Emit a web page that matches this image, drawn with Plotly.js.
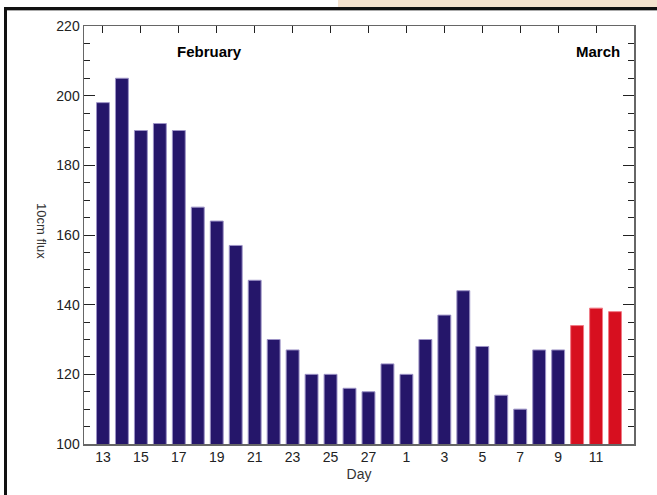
<!DOCTYPE html>
<html>
<head>
<meta charset="utf-8">
<script src="https://cdn.plot.ly/plotly-3.0.1.min.js"></script>
<style>
html,body{margin:0;padding:0;background:#fff;}
#chart{width:657px;height:495px;}
</style>
</head>
<body>
<div id="chart"></div>
<script>
// Observed 10cm flux, Feb 13 - Mar 9
var obsDays = ["13","14","15","16","17","18","19","20","21","22","23","24","25","26","27","28",
               "1","2","3","4","5","6","7","8","9"];
var obsFlux = [198,205,190,192,190,168,164,157,147,130,127,120,120,116,115,123,
               120,130,137,144,128,114,110,127,127];
// Forecast / highlighted days, Mar 10 - 12
var fcDays = ["10","11","12"];
var fcFlux = [134,139,138];
var monthLabels = ["February","March"];
var xTitle = "Day";
var yTitle = "10cm flux";

var allDays = obsDays.concat(fcDays);
var tickDays = allDays.filter(function(d,i){return i%2===0;});

var font = "Liberation Sans, Arial, sans-serif";

var traces = [
  {type:"bar", x:obsDays, y:obsFlux, width:0.68,
   marker:{color:"#25166a", line:{color:"#9d93c6", width:1}}, hoverinfo:"x+y"},
  {type:"bar", x:fcDays, y:fcFlux, width:0.68,
   marker:{color:"#d70f1f", line:{color:"#f07a85", width:1}}, hoverinfo:"x+y"}
];

function px2x(p){return (p-84)/550;}
function px2y(p){return (444-p)/418;}

var layout = {
  width:657, height:495,
  margin:{l:84, r:23, t:26, b:51},
  paper_bgcolor:"#fff", plot_bgcolor:"#fff",
  showlegend:false,
  barmode:"overlay",
  font:{family:font, size:14, color:"#222"},
  xaxis:{
    type:"category", categoryorder:"array", categoryarray:allDays,
    range:[-1, allDays.length],
    tickmode:"array", tickvals:tickDays, ticktext:tickDays,
    ticks:"inside", ticklen:7, tickcolor:"#222", tickwidth:1,
    showline:true, linecolor:"#666", linewidth:1.5, mirror:"ticks",
    showgrid:false, zeroline:false, layer:"below traces",
    tickfont:{family:font, size:14, color:"#222"},
    title:{text:xTitle, font:{family:font, size:14, color:"#333"}, standoff:5}
  },
  yaxis:{
    range:[100,220], tickmode:"linear", tick0:100, dtick:20,
    ticks:"inside", ticklen:11, tickcolor:"#222", tickwidth:1,
    minor:{dtick:5, ticks:"inside", ticklen:6, tickcolor:"#222", tickwidth:1},
    showline:true, linecolor:"#666", linewidth:1.5, mirror:"ticks",
    showgrid:false, zeroline:false,
    tickfont:{family:font, size:14, color:"#222"}
  },
  annotations:[
    {text:yTitle, xref:"paper", yref:"paper", x:px2x(41), y:px2y(231), textangle:90,
     xanchor:"center", yanchor:"middle", showarrow:false, font:{family:font, size:13, color:"#333"}},
    {text:"<b>"+monthLabels[0]+"</b>", xref:"paper", yref:"paper", x:px2x(209), y:px2y(51),
     xanchor:"center", yanchor:"middle", showarrow:false, font:{family:font, size:15, color:"#000"}},
    {text:"<b>"+monthLabels[1]+"</b>", xref:"paper", yref:"paper", x:px2x(622), y:px2y(51),
     xanchor:"right", yanchor:"middle", showarrow:false, font:{family:font, size:15, color:"#000"}}
  ],
  shapes:[
    {type:"rect", xref:"paper", yref:"paper", x0:px2x(338), x1:px2x(660), y0:px2y(7), y1:px2y(-1),
     fillcolor:"#f5e3cf", line:{width:0}, layer:"above"},
    {type:"rect", xref:"paper", yref:"paper", x0:px2x(4), x1:px2x(660), y0:px2y(10), y1:px2y(7),
     fillcolor:"#111", line:{width:0}, layer:"above"},
    {type:"line", xref:"paper", yref:"paper", x0:px2x(7), x1:px2x(660), y0:px2y(10.5), y1:px2y(10.5),
     line:{color:"#aaa", width:1}, layer:"above"},
    {type:"rect", xref:"paper", yref:"paper", x0:px2x(4), x1:px2x(7), y0:px2y(500), y1:px2y(7),
     fillcolor:"#111", line:{width:0}, layer:"above"}
  ]
};

Plotly.newPlot("chart", traces, layout, {displayModeBar:false, staticPlot:true});
</script>
</body>
</html>
